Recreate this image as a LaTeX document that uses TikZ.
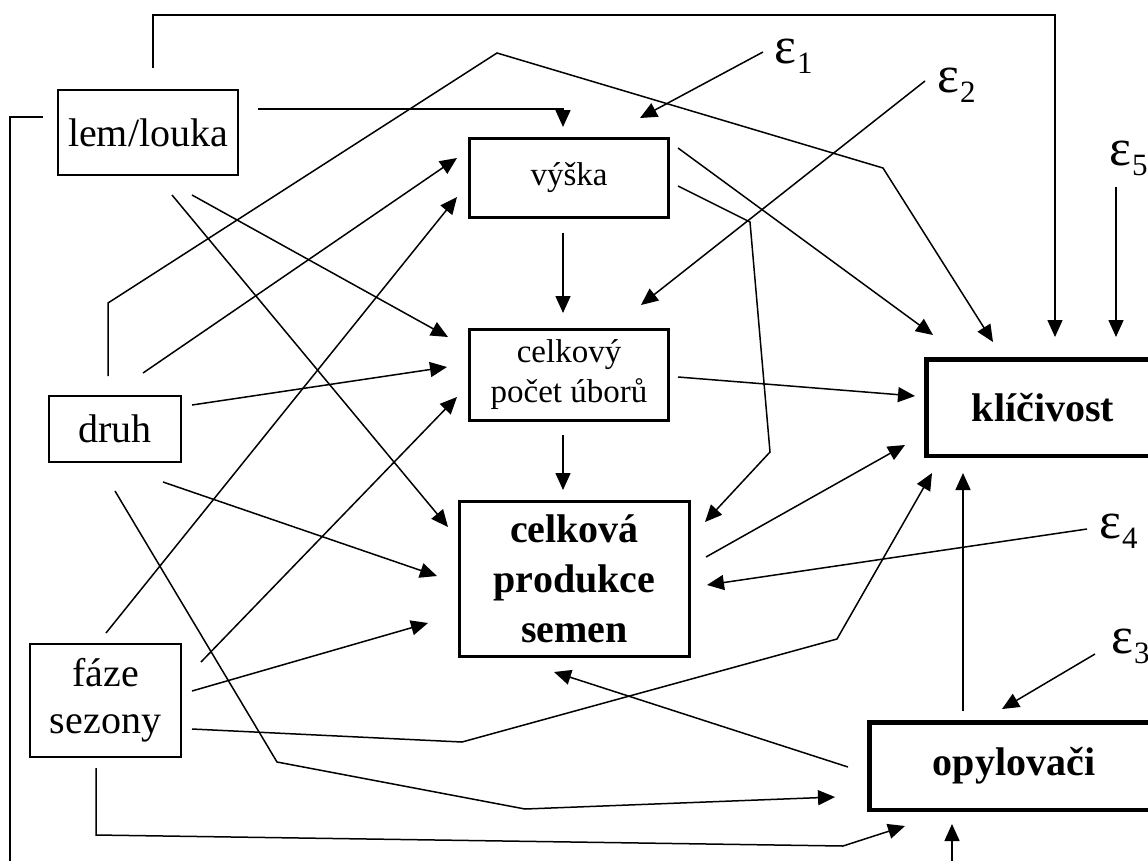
\documentclass[tikz,border=0pt]{standalone}
\usepackage{fontspec}
\setmainfont{Liberation Serif}
\usetikzlibrary{arrows.meta,calc}
\tikzset{
  box/.style={draw, line width=2.4pt, inner sep=0pt, align=center, font=\fontsize{40}{47}\selectfont},
  midbox/.style={box, line width=2.8pt, font=\fontsize{33}{40}\selectfont},
  boldbox/.style={box, font=\fontsize{40}{50}\selectfont\bfseries},
  arr/.style={line width=1.5pt, -{Triangle[length=17pt,width=15pt]}},
  eps/.style={inner sep=0pt, anchor=base west}
}
\newcommand{\epsl}[1]{{\fontsize{52}{52}\selectfont ε}\kern1pt\raisebox{-10pt}{\fontsize{31}{31}\selectfont #1}}
\begin{document}
\begin{tikzpicture}[x=1pt,y=-1pt]
\useasboundingbox (0,0) rectangle (1148,860);
\fill[white] (0,0) rectangle (1148,860);
\clip (0,0) rectangle (1148,860);

% nodes
\node[box, minimum width=179.6pt, minimum height=84.6pt] (lem) at (148,132.5) {lem/louka};
\node[midbox, minimum width=199.2pt, minimum height=79.2pt] (vyska) at (569,178) {výška};
\node[midbox, minimum width=199.2pt, minimum height=91.2pt] (pocet) at (569,375) {celkový\\počet úborů};
\node[boldbox, line width=3.2pt, minimum width=229.8pt, minimum height=154.8pt] (prod) at (574.5,579) {celková\\produkce\\semen};
\node[box, minimum width=131.6pt, minimum height=65.6pt] (druh) at (115,429) {druh};
\node[box, minimum width=150.6pt, minimum height=112.6pt] (faze) at (105.5,700.5) {fáze\\sezony};
\node[boldbox, line width=4.5pt, minimum width=233.5pt, minimum height=96.5pt] (klic) at (1043,407.5) {klíčivost};
\node[boldbox, line width=4.5pt, minimum width=289.5pt, minimum height=87.5pt] (opyl) at (1014,766) {opylovači};

\node[eps] (e1) at (774,63) {\epsl{1}};
\node[eps] (e2) at (937,92) {\epsl{2}};
\node[eps] (e5) at (1109,165) {\epsl{5}};
\node[eps] (e4) at (1099,538) {\epsl{4}};
\node[eps] (e3) at (1111,653) {\epsl{3}};

% lem/louka
\draw[arr] ($(lem.north)+(5,-21)$) -- ++(0,-53) -| ($(klic.north)+(12,-20)$);
\draw[arr] ($(lem.west)+(-14,-15.5)$) -- ++(-33,0) -- ++(0,770) -| ($(opyl.south)+(-62,12)$);
\draw[arr] ($(lem.east)+(19,-23.5)$) -| ($(vyska.north)+(-6,-10)$);
\draw[arr] ($(lem.south)+(44,19)$) -- ($(pocet.west)+(-20,-38)$);
\draw[arr] ($(lem.south)+(24,19)$) -- ($(prod.west)+(-10,-52)$);

% druh
\draw[arr] ($(druh.north)+(-7,-19)$) -- (108,303) -- (497,53) -- (883,168) -- ($(klic.north west)+(69,-15)$);
\draw[arr] ($(druh.north)+(28,-22)$) -- ($(vyska.west)+(-11,-20)$);
\draw[arr] ($(druh.east)+(10,-24)$) -- ($(pocet.west)+(-21,-8)$);
\draw[arr] ($(druh.south)+(48,19)$) -- ($(prod.west)+(-21,-3)$);
\draw[arr] ($(druh.south)+(0,28)$) -- (277,762) -- (525,809) -- ($(opyl.west)+(-32,31)$);

% faze sezony
\draw[arr] ($(faze.north)+(0.5,-10)$) -- ($(vyska.west)+(-11,19)$);
\draw[arr] ($(faze.east)+(19,-38.5)$) -- ($(pocet.west)+(-11,22)$);
\draw[arr] ($(faze.east)+(10,-9.5)$) -- ($(prod.west)+(-30,44)$);
\draw[arr] ($(faze.east)+(10,28.5)$) -- (462,742) -- (837,639) -- ($(klic.south west)+(8,15)$);
\draw[arr] ($(faze.south)+(-9.5,10)$) -- (96,835) -- (843,846) -- ($(opyl.south)+(-109,14)$);

% vyska
\draw[arr] ($(vyska.south)+(-6,14)$) -- ($(pocet.north)+(-6,-15)$);
\draw[arr] ($(vyska.east)+(8,-30)$) -- ($(klic.north west)+(9,-22)$);
\draw[arr] ($(vyska.east)+(8,8)$) -- (750,222) -- (770,452) -- ($(prod.east)+(14,-57)$);

% pocet
\draw[arr] ($(pocet.south)+(-6,13)$) -- ($(prod.north)+(-11.5,-10)$);
\draw[arr] ($(pocet.east)+(8,2)$) -- ($(klic.west)+(-9,-11.5)$);

% prod, opyl
\draw[arr] ($(prod.east)+(15,-22)$) -- ($(klic.west)+(-19,37.5)$);
\draw[arr] ($(opyl.north)+(-51,-9)$) -- ($(klic.south)+(-80,15)$);
\draw[arr] ($(opyl.west)+(-19,1)$) -- ($(prod.south)+(-20.5,14)$);

% errors
\draw[arr] ($(e1.base west)+(-11,-11)$) -- ($(vyska.north)+(71,-19)$);
\draw[arr] ($(e2.base west)+(-12,-11)$) -- ($(pocet.north)+(72,-23)$);
\draw[arr] ($(e5.base west)+(7,22)$) -- ($(klic.north)+(73,-20)$);
\draw[arr] ($(e4.base west)+(-12,-9)$) -- ($(prod.east)+(16,6)$);
\draw[arr] ($(e3.base west)+(-16,1)$) -- ($(opyl.north)+(-12,-11)$);
\end{tikzpicture}
\end{document}
